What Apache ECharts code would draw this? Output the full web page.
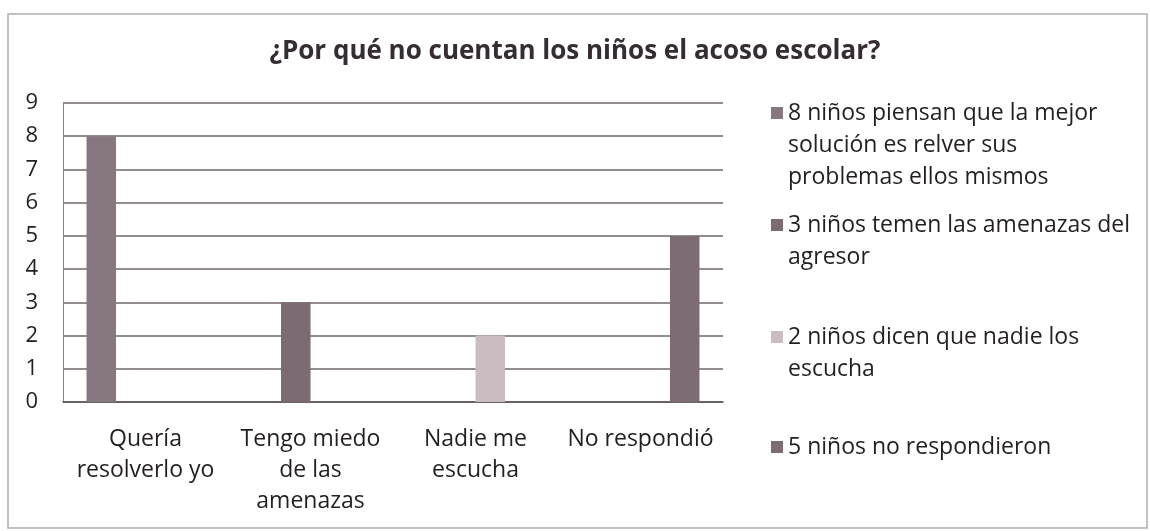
<!DOCTYPE html>
<html lang="es">
<head>
    <meta charset="UTF-8">
    <title>Acoso escolar</title>
    <script src="https://cdn.jsdelivr.net/npm/echarts@6/dist/echarts.min.js"></script>
    <style>
        html, body { margin: 0; padding: 0; background: #fff; }
    </style>
</head>
<body>
<div id="main" style="width: 1150px; height: 531px"></div>
<script>
    // datos
    let categorias = ['Quería\nresolverlo yo', 'Tengo miedo\nde las\namenazas', 'Nadie me\nescucha', 'No respondió'];
    let valores = [8, 3, 2, 5];
    let nombres = [
        '8 niños piensan que la mejor solución es relver sus problemas ellos mismos',
        '3 niños temen las amenazas del agresor',
        '2 niños dicen que nadie los escucha',
        '5 niños no respondieron'
    ];
    let leyendaLineas = [
        ['8 niños piensan que la mejor', 'solución es relver sus', 'problemas ellos mismos'],
        ['3 niños temen las amenazas del', 'agresor'],
        ['2 niños dicen que nadie los', 'escucha'],
        ['5 niños no respondieron']
    ];
    let colores = ['#867780', '#7c6b73', '#cbbcc2', '#7e6c74'];
    let yTicks = [0, 9, 1]; // min, max, interval

    let fuente = 'Open Sans';
    let lineaAlto = 32;
    let topesLeyenda = [92, 204, 316, 426];

    // una serie por respuesta, cada una con su valor en su categoría
    let series = nombres.map(function (n, i) {
        return {
            name: n,
            type: 'bar',
            barGap: '0%',
            barCategoryGap: '28.5%',
            itemStyle: {color: colores[i]},
            data: categorias.map(function (c, j) { return j === i ? valores[i] : '-'; }),
            animation: false
        };
    });

    // icono cuadrado alineado con la primera línea del texto
    function iconoLeyenda(lineas) {
        let h = lineas * lineaAlto;
        return 'path://M0,0h12M0,10h12v12h-12zM0,' + h + 'h12';
    }

    let leyendas = nombres.map(function (n, i) {
        let lineas = leyendaLineas[i].length;
        return {
            data: [n],
            orient: 'vertical',
            left: 766,
            top: topesLeyenda[i],
            itemWidth: 12,
            itemHeight: lineas * lineaAlto,
            icon: iconoLeyenda(lineas),
            selectedMode: false,
            formatter: function () { return leyendaLineas[i].join('\n'); },
            textStyle: {
                fontFamily: fuente,
                fontSize: 23,
                lineHeight: lineaAlto,
                color: '#221e21'
            }
        };
    });

    let myChart = echarts.init(document.getElementById('main'));
    let option = {
        backgroundColor: '#fff',
        title: {
            text: '¿Por qué no cuentan los niños el acoso escolar?',
            left: 'center',
            top: 34,
            textStyle: {
                fontFamily: fuente,
                fontSize: 26,
                fontWeight: 'bold',
                color: '#352d33'
            }
        },
        legend: leyendas,
        grid: {
            left: 63,
            right: 427,
            top: 103,
            bottom: 129,
            containLabel: false,
            outerBoundsMode: 'none'
        },
        xAxis: {
            type: 'category',
            data: categorias,
            axisTick: {show: false},
            axisLine: {lineStyle: {color: '#5a5458', width: 1.5}},
            axisLabel: {
                interval: 0,
                margin: 22,
                fontFamily: fuente,
                fontSize: 23,
                lineHeight: 31,
                color: '#221e21'
            }
        },
        yAxis: {
            type: 'value',
            min: yTicks[0],
            max: yTicks[1],
            interval: yTicks[2],
            axisLine: {show: true, lineStyle: {color: '#8a8488', width: 1}},
            axisTick: {show: false},
            axisLabel: {
                margin: 25,
                fontFamily: fuente,
                fontSize: 22,
                color: '#221e21'
            },
            splitLine: {lineStyle: {color: '#6e666a', width: 1.5}}
        },
        graphic: [{
            type: 'rect',
            shape: {x: 8, y: 14, width: 1139, height: 514},
            style: {fill: 'none', stroke: '#b0abae', lineWidth: 1.5},
            silent: true
        }],
        series: series
    };
    myChart.setOption(option);
</script>
</body>
</html>
